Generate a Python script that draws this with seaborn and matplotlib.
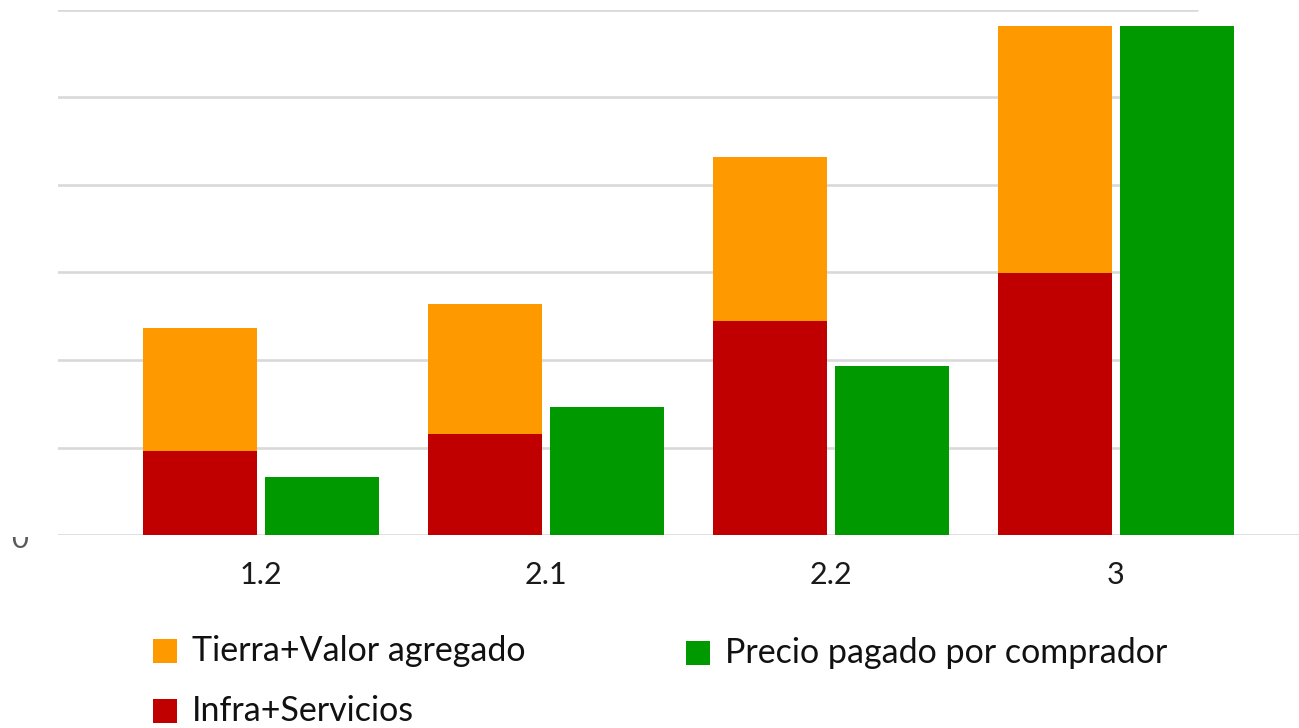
import matplotlib
matplotlib.use("Agg")
import matplotlib.pyplot as plt
import seaborn as sns
import pandas as pd
from matplotlib.patches import Rectangle
from matplotlib.transforms import Bbox

categories = ["1.2", "2.1", "2.2", "3"]
infra_servicios = [96, 115, 245, 299]
tierra_valor = [141, 149, 187, 283]
precio_comprador = [66, 146, 193, 582]
grid_values = [100, 200, 300, 400, 500, 600]

C_ORANGE = "#FF9900"
C_RED = "#C00000"
C_GREEN = "#009900"
C_GRID = "#D9D9D9"

sns.set_theme(style="white")
plt.rcParams["font.family"] = ["Lato", "DejaVu Sans"]

W, H = 1299, 728
fig = plt.figure(figsize=(W / 100, H / 100), dpi=100)
left, right, base, top = 58, 1299, 535, 10
ax = fig.add_axes([left / W, (H - base) / H, (right - left) / W, (base - top) / H])

totals = [a + b for a, b in zip(infra_servicios, tierra_valor)]
hue_order = ["stack", "precio"]
df_top = pd.DataFrame({
    "cat": categories * 2,
    "serie": ["stack"] * 4 + ["precio"] * 4,
    "valor": totals + precio_comprador,
})
df_red = pd.DataFrame({
    "cat": categories,
    "serie": ["stack"] * 4,
    "valor": infra_servicios,
})

for y in grid_values:
    ax.axhline(y, xmin=0, xmax=(1197 - left) / (right - left), color=C_GRID, lw=1.9, zorder=0)
ax.axhline(0, xmin=0, xmax=1, color=C_GRID, lw=1.9, zorder=0)

common = dict(x="cat", y="valor", hue="serie", hue_order=hue_order, order=categories,
              width=0.856, gap=0.066, dodge=True, errorbar=None, legend=False,
              edgecolor="none", saturation=1, ax=ax)
sns.barplot(data=df_top, palette={"stack": C_ORANGE, "precio": C_GREEN}, zorder=2, **common)
sns.barplot(data=df_red, palette={"stack": C_RED, "precio": C_GREEN}, zorder=3, **common)

ax.set_xlim(-0.712, 3.642)
ax.set_ylim(0, 600)
ax.set_xlabel("")
ax.set_ylabel("")
ax.set_yticks([])
ax.tick_params(axis="x", length=0, pad=19, labelsize=22, labelcolor="#1a1a1a")
for s in ax.spines.values():
    s.set_visible(False)
ax.patch.set_alpha(0)

# partially visible "0" tick label (cut off at top in reference)
t0 = fig.text(20 / W, 1 - 540 / H, "0", ha="center", va="center", fontsize=21, color="#595959")
t0.set_clip_box(Bbox.from_extents(0, 0, 60, H - 537))
t0.set_clip_on(True)

# legend
def leg(x_sq, y_c, color, label):
    fig.patches.append(Rectangle(((x_sq) / W, 1 - (y_c + 12) / H), 24 / W, 24 / H,
                                 transform=fig.transFigure, facecolor=color, edgecolor="none"))
    fig.text((x_sq + 39) / W, 1 - y_c / H, label, ha="left", va="center",
             fontsize=24.5, color="#111111")

leg(153, 651, C_ORANGE, "Tierra+Valor agregado")
leg(686, 653, C_GREEN, "Precio pagado por comprador")
leg(153, 711, C_RED, "Infra+Servicios")

fig.savefig("out.png", dpi=100)
